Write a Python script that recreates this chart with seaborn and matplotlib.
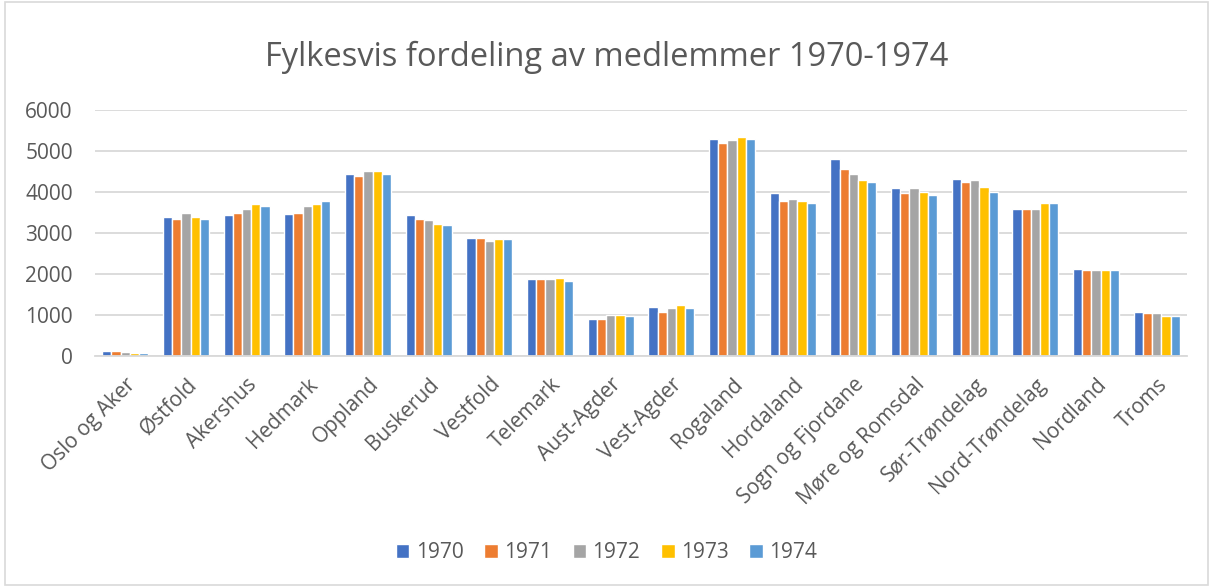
import matplotlib
matplotlib.use("Agg")
import matplotlib.pyplot as plt
import seaborn as sns
import pandas as pd
from matplotlib.patches import Rectangle

categories = ["Oslo og Aker", "Østfold", "Akershus", "Hedmark", "Oppland", "Buskerud",
              "Vestfold", "Telemark", "Aust-Agder", "Vest-Agder", "Rogaland", "Hordaland",
              "Sogn og Fjordane", "Møre og Romsdal", "Sør-Trøndelag", "Nord-Trøndelag",
              "Nordland", "Troms"]
years = ["1970", "1971", "1972", "1973", "1974"]
v1970 = [115, 3390, 3430, 3460, 4440, 3430, 2880, 1870, 895, 1200, 5290, 3970, 4800, 4090, 4320, 3585, 2130, 1080]
v1971 = [115, 3350, 3500, 3500, 4400, 3350, 2880, 1870, 895, 1080, 5190, 3780, 4560, 3970, 4245, 3585, 2100, 1040]
v1972 = [110, 3500, 3585, 3660, 4520, 3310, 2805, 1870, 1010, 1160, 5260, 3820, 4440, 4090, 4285, 3585, 2100, 1040]
v1973 = [75, 3390, 3700, 3700, 4520, 3230, 2845, 1900, 1010, 1245, 5340, 3780, 4285, 4010, 4120, 3730, 2100, 965]
v1974 = [75, 3350, 3660, 3780, 4440, 3195, 2845, 1830, 965, 1160, 5290, 3740, 4245, 3930, 4010, 3730, 2100, 965]
series = [v1970, v1971, v1972, v1973, v1974]
colors = ["#4472C4", "#ED7D31", "#A5A5A5", "#FFC000", "#5B9BD5"]
title = "Fylkesvis fordeling av medlemmer 1970-1974"

rows = []
for y, vals in zip(years, series):
    for c, v in zip(categories, vals):
        rows.append({"Fylke": c, "År": y, "Medlemmer": v})
df = pd.DataFrame(rows)

sns.set_theme(style="white")
plt.rcParams["font.family"] = ["Open Sans", "DejaVu Sans"]
text_color = "#595959"

fig = plt.figure(figsize=(12.13, 5.87), dpi=100)
ax = fig.add_axes([0.0783, 0.3935, 0.9003, 0.4191])
sns.barplot(data=df, x="Fylke", y="Medlemmer", hue="År", order=categories,
            hue_order=years, palette=colors, width=0.76, edgecolor="white",
            linewidth=1.0, saturation=1, ax=ax)

ax.set_ylim(0, 6000)
ax.set_yticks(range(0, 6001, 1000))
ax.yaxis.grid(True, color="#D9D9D9", linewidth=1.3)
ax.set_axisbelow(True)
for s in ["top", "right", "left"]:
    ax.spines[s].set_visible(False)
ax.spines["bottom"].set_color("#D9D9D9")
ax.spines["bottom"].set_linewidth(1.3)
ax.set_xlabel("")
ax.set_ylabel("")
ax.tick_params(axis="y", length=0, pad=16, labelsize=15, labelcolor=text_color)
ax.tick_params(axis="x", length=0, pad=13, labelsize=15, labelcolor=text_color)
plt.setp(ax.get_xticklabels(), rotation=45, ha="right", rotation_mode="anchor")
ax.set_xlim(-0.5, len(categories) - 0.5)

fig.text(0.5, 0.903, title, ha="center", va="center", fontsize=23.5, color=text_color)

leg = ax.legend(loc="center", bbox_to_anchor=(0.5, 0.058), bbox_transform=fig.transFigure,
                ncol=5, frameon=False, fontsize=15, handlelength=0.65, handleheight=0.65,
                handletextpad=0.3, columnspacing=1.0, title=None)
for t in leg.get_texts():
    t.set_color(text_color)

fig.patches.append(Rectangle((0.004, 0.004), 0.992, 0.992, transform=fig.transFigure,
                             fill=False, edgecolor="#D9D9D9", linewidth=1.2))

fig.savefig("out.png", dpi=100, facecolor="white")
